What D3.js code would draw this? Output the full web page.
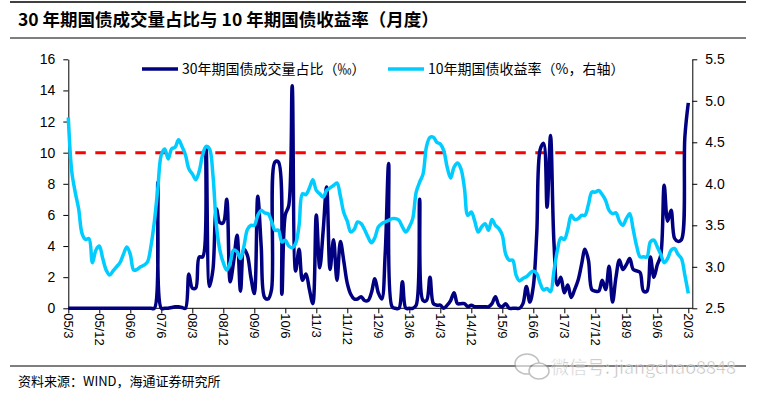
<!DOCTYPE html>
<html>
<head>
<meta charset="utf-8">
<script src="https://cdn.jsdelivr.net/npm/d3@7"></script>
<style>
body { margin: 0; background: #fff; }
svg { display: block; font-family: Arial, "Liberation Sans", "Noto Sans CJK SC", sans-serif; }
</style>
</head>
<body>
<svg id="grafico" width="758" height="399"></svg>
<script>
// eixo de categorias: 2005/3 ate 2020/3, mensal
let inicio = [2005, 3]
let nMeses = 181
let rotulosEixo = ['05/3','05/12','06/9','07/6','08/3','08/12','09/9','10/6','11/3','11/12','12/9','13/6','14/3','14/12','15/9','16/6','17/3','17/12','18/9','19/6','20/3']

// 30年期国债成交量占比 (‰)
let participacao = [
  0,0,0,0,0,0,0,0,0,0, 0,0,0,0,0,0,0,0,0,0, 0,0,0,0,0,0,8.1,0,0,0,
  0.05,0.1,0.1,0.05,0,2.2,1.3,1.3,3.3,3.3, 10.3,1.4,2.5,6.4,5.5,5.5,7.0,1.7,3.0,4.7,
  1.1,3.8,3.4,2.0,0.95,7.2,4.0,0.7,0.6,1.2, 9.4,9.4,0.9,6.0,6.6,14.3,2.4,3.8,1.8,2.2,
  1.2,0.3,6.0,2.6,5.0,7.8,2.5,4.4,1.8,4.3, 3.0,1.6,0.9,0.6,0.6,0.75,0.5,0.5,1.0,1.9,
  1.0,0.6,3.5,9.3,0.1,0,0,1.7,0,0, 0,0.2,7.0,0.5,0.5,2.0,0.3,0.2,0.2,0,
  0.2,0.5,1.0,0.3,0.3,0.3,0.1,0.2,0.1,0.1, 0.1,0.1,0.1,0.3,0.75,0.2,0.1,0.3,0,0,
  0,0,0.3,1.4,0.4,1.4,4.8,10.2,10.6,6.5, 11.1,4.2,1.5,2.0,1.0,1.5,0.7,1.2,1.8,2.8,
  3.8,3.1,1.2,1.1,1.1,1.8,1.2,2.7,0.4,2.0, 3.1,2.5,2.8,3.2,2.5,2.4,2.3,1.1,1.1,3.3,
  2.0,2.8,3.4,7.9,5.6,6.3,4.5,4.3,4.4,11.0, 13.2
]

// 10年期国债收益率 (%，右轴)
let rendimento = [
  4.80,4.15,3.90,3.70,3.40,3.33,3.34,3.05,3.20,3.25, 3.10,2.96,2.90,2.95,3.00,3.05,3.15,3.24,3.15,2.96,
  2.97,3.00,3.02,3.06,3.25,3.55,3.95,4.35,4.42,4.30, 4.42,4.44,4.53,4.45,4.35,4.18,4.12,4.05,4.15,4.35,
  4.45,4.42,4.10,3.50,3.20,3.05,2.96,3.05,3.20,3.18, 3.10,3.25,3.45,3.50,3.50,3.62,3.68,3.65,3.64,3.55,
  3.44,3.44,3.30,3.32,3.25,3.23,3.28,3.50,3.88,3.87, 3.95,4.05,3.92,3.88,3.84,3.92,3.95,3.98,4.01,3.85,
  3.65,3.55,3.42,3.45,3.54,3.52,3.45,3.36,3.29,3.35, 3.48,3.52,3.54,3.56,3.58,3.58,3.56,3.48,3.42,3.48,
  3.58,3.90,4.02,4.12,4.45,4.56,4.56,4.50,4.48,4.40, 4.20,4.07,4.20,4.25,4.18,3.95,3.62,3.66,3.55,3.42,
  3.48,3.52,3.44,3.57,3.50,3.46,3.38,3.15,3.08,3.08, 2.90,2.83,2.86,2.88,2.92,2.95,2.92,2.80,2.72,2.74,
  2.70,2.95,3.20,3.35,3.33,3.45,3.62,3.57,3.58,3.62, 3.62,3.75,3.90,3.90,3.92,3.87,3.80,3.68,3.64,3.65,
  3.55,3.50,3.58,3.64,3.45,3.25,3.12,3.12,3.12,3.30, 3.32,3.24,3.15,3.05,3.10,3.20,3.22,3.15,3.10,2.90,
  2.68
]

let linhaRef = 10
let ticksEsq = [0,2,4,6,8,10,12,14,16]
let ticksDir = [2.5,3.0,3.5,4.0,4.5,5.0,5.5]

let meses = []
for (let i = 0; i < nMeses; i++) {
    let m = inicio[1] - 1 + i
    let a = inicio[0] + Math.floor(m / 12)
    meses.push(String(a % 100).padStart(2,'0') + '/' + (m % 12 + 1))
}

let svg = d3.select('#grafico')
let esq = 68.3, dir = 688.3, eixoDir = 692.3, topo = 59.3, base = 308.3

let fnx = d3.scalePoint().domain(meses).range([esq, dir])
let fny = d3.scaleLinear().domain([0,16]).range([base, topo])
let fny2 = d3.scaleLinear().domain([2.5,5.5]).range([base, topo])

// titulo e linhas de moldura
svg.append('line').attr('x1',10).attr('x2',746).attr('y1',2).attr('y2',2).attr('stroke','#000').attr('stroke-width',1.5)
svg.append('text').attr('x',18).attr('y',26)
    .style('font-family','"Noto Sans CJK SC", sans-serif').style('font-weight','bold').style('font-size','17.5px')
    .text('30 年期国债成交量占比与 10 年期国债收益率（月度）')
svg.append('line').attr('x1',10).attr('x2',746).attr('y1',38).attr('y2',38).attr('stroke','#000').attr('stroke-width',1.2)
svg.append('line').attr('x1',10).attr('x2',746).attr('y1',366).attr('y2',366).attr('stroke','#000').attr('stroke-width',1.2)
svg.append('text').attr('x',18).attr('y',386)
    .style('font-family','"Noto Sans CJK SC", sans-serif').style('font-size','13px')
    .text('资料来源：WIND，海通证券研究所')

// eixos
let eixoY = svg.append('g').attr('transform',`translate(${esq},0)`)
    .call(d3.axisLeft(fny).tickValues(ticksEsq).tickSize(5).tickSizeOuter(0))
let eixoY2 = svg.append('g').attr('transform',`translate(${eixoDir},0)`)
    .call(d3.axisRight(fny2).tickValues(ticksDir).tickSize(5).tickSizeOuter(0).tickFormat(d3.format('.1f')))
let eixoX = svg.append('g').attr('transform',`translate(0,${base})`)
    .call(d3.axisBottom(fnx).tickValues(meses.filter((d,i) => i % 9 == 0)).tickSize(5).tickSizeOuter(0))
eixoX.select('.domain').remove()
svg.append('line').attr('x1',esq).attr('x2',eixoDir).attr('y1',base).attr('y2',base).attr('stroke','#000')

;[eixoY, eixoY2, eixoX].forEach(g => {
    g.selectAll('text').style('font-size','14px').style('font-family','Arial, "Liberation Sans", sans-serif').attr('fill','#000')
    g.selectAll('line, path').attr('stroke','#000')
})
eixoY.selectAll('text').attr('x',-13)
eixoY2.selectAll('text').attr('x',13)
eixoX.selectAll('text')
    .data(rotulosEixo)
    .text(d => d)
    .attr('transform','rotate(90)')
    .attr('x',5).attr('y',0).attr('dy','0.35em')
    .style('text-anchor','start').style('font-size','13px')

// linha de referencia 10‰
svg.append('line')
    .attr('x1',esq).attr('x2',dir)
    .attr('y1',fny(linhaRef)).attr('y2',fny(linhaRef))
    .attr('stroke','#ff0000').attr('stroke-width',3)
    .attr('stroke-dasharray','10.5,9.5').attr('stroke-dashoffset',13)

// series
let linhaPart = d3.line().x((d,i) => fnx(meses[i])).y(d => fny(d)).curve(d3.curveCatmullRom.alpha(0.5))
let linhaRend = d3.line().x((d,i) => fnx(meses[i])).y(d => fny2(d)).curve(d3.curveCatmullRom.alpha(0.5))

svg.append('path').datum(participacao).attr('d',linhaPart)
    .attr('fill','none').attr('stroke','#000080').attr('stroke-width',3.5).attr('stroke-linejoin','round')
svg.append('path').datum(rendimento).attr('d',linhaRend)
    .attr('fill','none').attr('stroke','#00ccff').attr('stroke-width',3.5).attr('stroke-linejoin','round')

// legenda
let legenda = [
    {nome:'30年期国债成交量占比（‰）', cor:'#000080', x:142},
    {nome:'10年期国债收益率（%，右轴）', cor:'#00ccff', x:388}
]
let itens = svg.selectAll('.legenda').data(legenda).join('g').attr('class','legenda')
    .attr('transform', d => `translate(${d.x},69)`)
itens.append('line').attr('x1',0).attr('x2',36).attr('stroke', d => d.cor).attr('stroke-width',3.5)
itens.append('text').attr('x',40).attr('dy','0.35em')
    .style('font-family','"Noto Sans CJK SC", sans-serif').style('font-size','14px')
    .text(d => d.nome)

// marca d'agua
let marca = svg.append('g').attr('opacity',0.6)
marca.append('ellipse').attr('cx',527).attr('cy',364).attr('rx',12).attr('ry',10).attr('fill','#fff').attr('stroke','#999').attr('stroke-width',1.5)
marca.append('ellipse').attr('cx',539).attr('cy',371).attr('rx',10).attr('ry',8).attr('fill','#fff').attr('stroke','#999').attr('stroke-width',1.5)
marca.append('text').attr('x',551).attr('y',374)
    .style('font-family','"Noto Sans CJK SC", sans-serif').style('font-size','18px')
    .attr('fill','#888').attr('stroke','#fff').attr('stroke-width',0.6)
    .text('微信号: jiangchao8848')
</script>
</body>
</html>
